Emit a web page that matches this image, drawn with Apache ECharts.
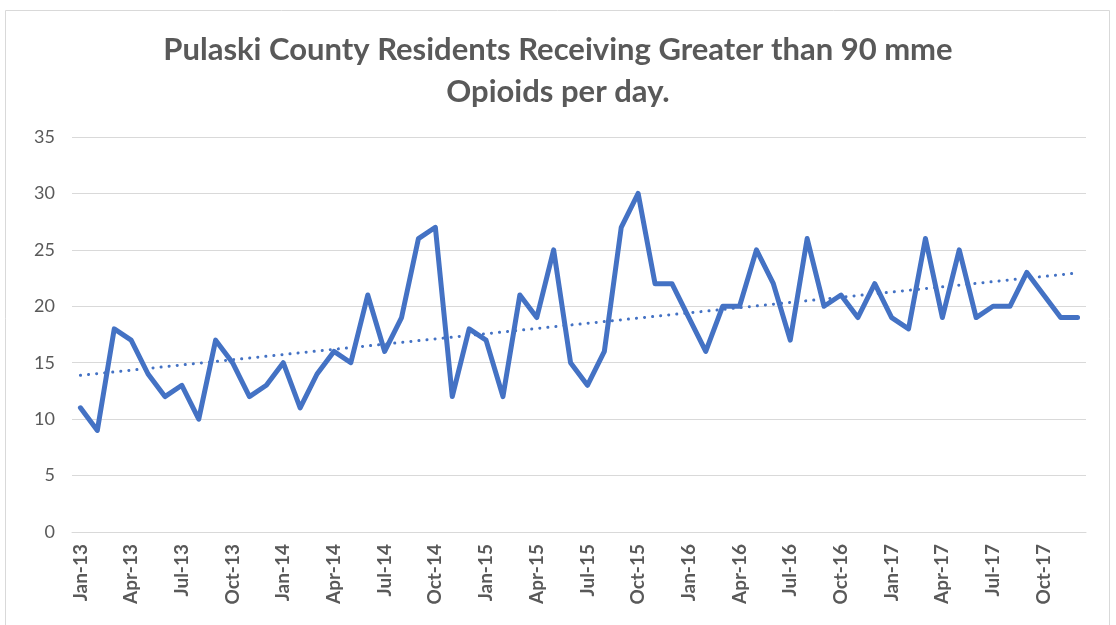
<!DOCTYPE html>
<html>
<head>
<meta charset="utf-8">
<script src="https://cdn.jsdelivr.net/npm/echarts@6/dist/echarts.min.js"></script>
<style>
html,body{margin:0;padding:0;background:#fff;}
#chart{width:1116px;height:625px;}
</style>
</head>
<body>
<div id="chart"></div>
<script>
const months = ['Jan','Feb','Mar','Apr','May','Jun','Jul','Aug','Sep','Oct','Nov','Dec'];
const years = ['13','14','15','16','17'];
const categories = [];
years.forEach(y => months.forEach(m => categories.push(m + '-' + y)));

const residents = [
  11, 9, 18, 17, 14, 12, 13, 10, 17, 15, 12, 13,
  15, 11, 14, 16, 15, 21, 16, 19, 26, 27, 12, 18,
  17, 12, 21, 19, 25, 15, 13, 16, 27, 30, 22, 22,
  19, 16, 20, 20, 25, 22, 17, 26, 20, 21, 19, 22,
  19, 18, 26, 19, 25, 19, 20, 20, 23, 21, 19, 19
];

const yTicks = [0, 5, 10, 15, 20, 25, 30, 35];

// Linear trend (least squares) computed from the data, as the original trendline
const n = residents.length;
let sx = 0, sy = 0, sxy = 0, sxx = 0;
residents.forEach((v, i) => { sx += i; sy += v; sxy += i * v; sxx += i * i; });
const slope = (n * sxy - sx * sy) / (n * sxx - sx * sx);
const intercept = (sy - slope * sx) / n;
const trend = residents.map((_, i) => +(intercept + slope * i).toFixed(3));

const chart = echarts.init(document.getElementById('chart'));
chart.setOption({
  animation: false,
  backgroundColor: '#ffffff',
  title: {
    text: 'Pulaski County Residents Receiving Greater than 90 mme\nOpioids per day.',
    left: 'center',
    top: 24,
    textStyle: {
      fontFamily: 'Lato',
      fontWeight: 'bold',
      fontSize: 31,
      color: '#595959',
      lineHeight: 42
    }
  },
  graphic: [{
    type: 'rect',
    shape: { x: 5.5, y: 10.5, width: 1104, height: 640 },
    style: { fill: 'none', stroke: '#d9d9d9', lineWidth: 1 },
    silent: true
  }],
  grid: { left: 72, right: 30, top: 137, bottom: 93, containLabel: false },
  xAxis: {
    type: 'category',
    data: categories,
    boundaryGap: true,
    axisLine: { show: true, lineStyle: { color: '#d9d9d9', width: 1 } },
    axisTick: { show: false },
    axisLabel: {
      interval: 2,
      rotate: 90,
      margin: 12,
      fontFamily: 'Lato',
      fontWeight: 'bold',
      fontSize: 19,
      color: '#595959'
    },
    splitLine: { show: false }
  },
  yAxis: {
    type: 'value',
    min: yTicks[0],
    max: yTicks[yTicks.length - 1],
    interval: 5,
    axisLine: { show: false },
    axisTick: { show: false },
    axisLabel: {
      margin: 17,
      fontFamily: 'Lato',
      fontSize: 18,
      color: '#595959'
    },
    splitLine: { show: true, lineStyle: { color: '#d9d9d9', width: 1 } }
  },
  series: [
    {
      name: 'Residents',
      type: 'line',
      data: residents,
      symbol: 'none',
      lineStyle: { color: '#4472C4', width: 5, join: 'round', cap: 'round' },
      z: 3
    },
    {
      name: 'Trend',
      type: 'line',
      data: trend,
      symbol: 'none',
      lineStyle: { color: '#4472C4', width: 3, type: [0.1, 8], cap: 'round' },
      z: 2
    }
  ]
});
</script>
</body>
</html>
